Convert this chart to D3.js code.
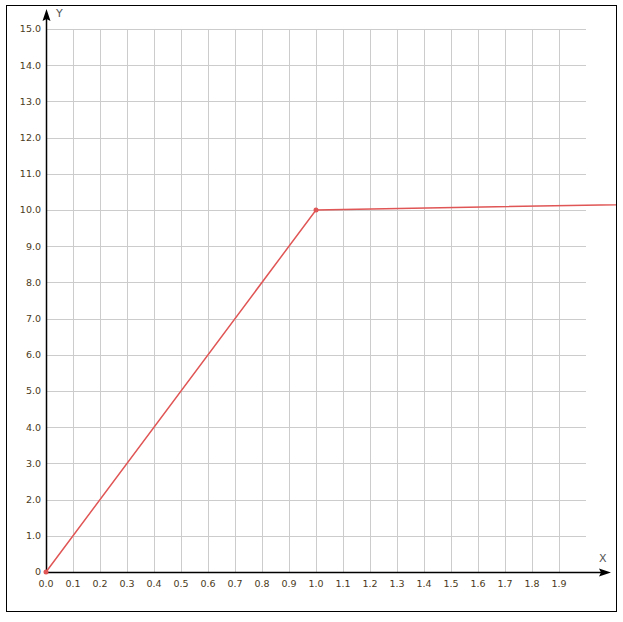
<!DOCTYPE html>
<html>
<head>
<meta charset="utf-8">
<script src="https://cdn.jsdelivr.net/npm/d3@7"></script>
<style>
  body { margin: 0; background: #fff; }
  text { font-family: "DejaVu Sans", Verdana, sans-serif; }
</style>
</head>
<body>
<div id="chart"></div>
<script>

// data
var xTicks = [0.0,0.1,0.2,0.3,0.4,0.5,0.6,0.7,0.8,0.9,1.0,1.1,1.2,1.3,1.4,1.5,1.6,1.7,1.8,1.9]
var yTicks = [1,2,3,4,5,6,7,8,9,10,11,12,13,14,15]
var xValues = [0, 1, 2.5]
var yValues = [0, 10, 10.2]
var markerIdx = [0, 1]

var width = 623, height = 622

var svg = d3.select("#chart")
  .append("svg")
    .attr("width", width)
    .attr("height", height)

// scales
var x = d3.scaleLinear().domain([0, 2]).range([46, 586])
var y = d3.scaleLinear().domain([0, 15]).range([572, 29])

// outer frame
svg.append("rect")
  .attr("x", 6.5).attr("y", 5.5)
  .attr("width", 610).attr("height", 606)
  .attr("fill", "none").attr("stroke", "#000")

svg.append("clipPath").attr("id", "clip")
  .append("rect").attr("x", 7).attr("y", 6).attr("width", 609).attr("height", 605)

// grid
var grid = svg.append("g").attr("stroke", "#cccccc").attr("stroke-width", 1)
grid.selectAll("line.v")
  .data(xTicks.filter(function(d) { return d > 0 }))
  .enter().append("line")
    .attr("x1", function(d) { return Math.round(x(d)) + 0.5 })
    .attr("x2", function(d) { return Math.round(x(d)) + 0.5 })
    .attr("y1", y(15)).attr("y2", y(0))
grid.selectAll("line.h")
  .data(yTicks)
  .enter().append("line")
    .attr("y1", function(d) { return Math.round(y(d)) + 0.5 })
    .attr("y2", function(d) { return Math.round(y(d)) + 0.5 })
    .attr("x1", x(0)).attr("x2", x(2))

// axes
svg.append("line")
  .attr("x1", x(0)).attr("x2", 603)
  .attr("y1", y(0) + 0.5).attr("y2", y(0) + 0.5)
  .attr("stroke", "#000").attr("stroke-width", 1.5)
svg.append("line")
  .attr("x1", x(0) + 0.5).attr("x2", x(0) + 0.5)
  .attr("y1", y(0)).attr("y2", 17)
  .attr("stroke", "#000").attr("stroke-width", 1.5)

// arrow heads
svg.append("path")
  .attr("d", "M611," + (y(0) + 0.5) + " L599," + (y(0) - 3.5) + " L601," + (y(0) + 0.5) + " L599," + (y(0) + 4.5) + " Z")
  .attr("fill", "#000")
svg.append("path")
  .attr("d", "M" + (x(0) + 0.5) + ",9 L" + (x(0) - 3.5) + ",21 L" + (x(0) + 0.5) + ",19 L" + (x(0) + 4.5) + ",21 Z")
  .attr("fill", "#000")

svg.append("text").attr("x", 56).attr("y", 17)
  .attr("font-size", 11).attr("fill", "#555").text("Y")
svg.append("text").attr("x", 599).attr("y", 562)
  .attr("font-size", 11).attr("fill", "#555").text("X")

// tick labels
var labelColor = "#4a3a1a"
svg.append("g").selectAll("text")
  .data(xTicks)
  .enter().append("text")
    .attr("x", function(d) { return x(d) })
    .attr("y", y(0) + 15)
    .attr("text-anchor", "middle")
    .attr("font-size", 9.5)
    .attr("fill", labelColor)
    .text(function(d) { return d3.format(".1f")(d) })

svg.append("g").selectAll("text")
  .data(yTicks)
  .enter().append("text")
    .attr("x", 41)
    .attr("y", function(d) { return y(d) })
    .attr("dy", "0.35em")
    .attr("text-anchor", "end")
    .attr("font-size", 9.5)
    .attr("fill", labelColor)
    .text(function(d) { return d3.format(".1f")(d) })

svg.append("text")
  .attr("x", 41).attr("y", y(0)).attr("dy", "0.35em")
  .attr("text-anchor", "end").attr("font-size", 9.5)
  .attr("fill", labelColor).text("0")

// series
var pts = xValues.map(function(d, i) { return [d, yValues[i]] })
var line = d3.line()
  .x(function(d) { return x(d[0]) })
  .y(function(d) { return y(d[1]) })

svg.append("path")
  .datum(pts)
  .attr("clip-path", "url(#clip)")
  .attr("d", line)
  .attr("fill", "none")
  .attr("stroke", "#e05555")
  .attr("stroke-width", 1.5)

svg.selectAll("circle.pt")
  .data(markerIdx)
  .enter().append("circle")
    .attr("cx", function(i) { return x(xValues[i]) })
    .attr("cy", function(i) { return y(yValues[i]) })
    .attr("r", 2.5)
    .attr("fill", "#e05555")

</script>
</body>
</html>
